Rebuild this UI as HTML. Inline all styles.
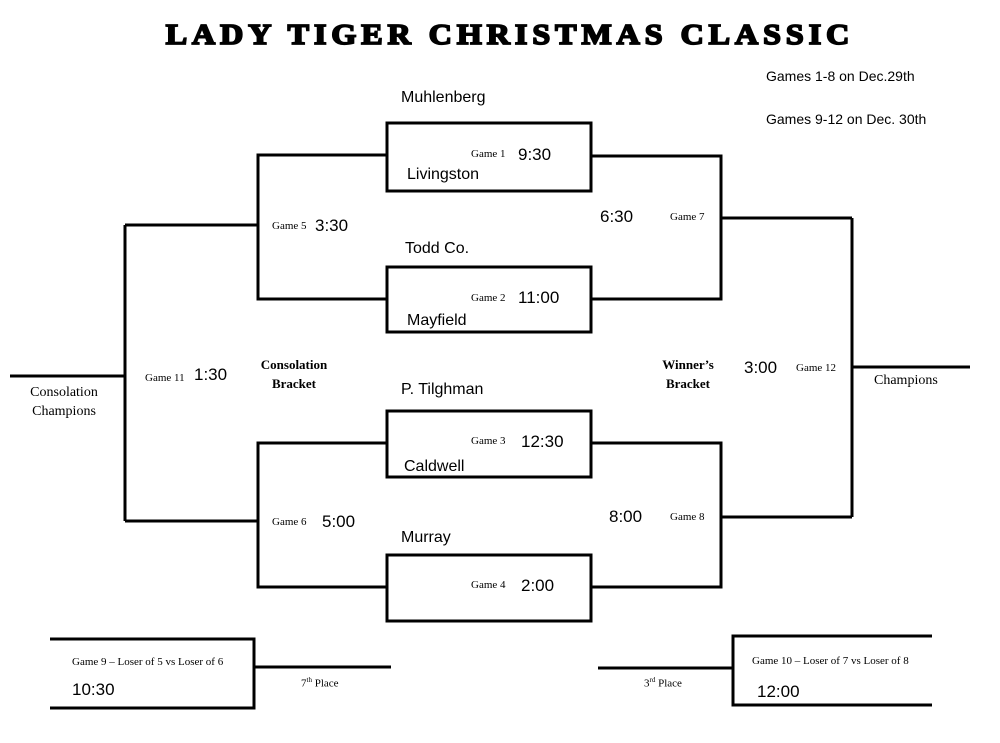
<!DOCTYPE html>
<html><head><style>
body{margin:0;background:#fff;width:1000px;height:743px;overflow:hidden;position:relative;font-family:"Liberation Sans",sans-serif;}
.t{position:absolute;white-space:nowrap;color:#000;}
.s{font-family:"Liberation Serif",serif;font-size:11px;}
.b{font-family:"Liberation Serif",serif;font-weight:bold;font-size:13px;text-align:center;}
.n{font-size:16px;}
.tm{font-size:17px;}
</style></head><body>
<svg width="1000" height="743" style="position:absolute;left:0;top:0" fill="none" stroke="#000" stroke-width="3">
<rect x="387" y="123" width="204" height="68"/>
<rect x="387" y="267" width="204" height="65"/>
<rect x="387" y="411" width="204" height="66"/>
<rect x="387" y="555" width="204" height="66"/>
<path d="M387 155H258V299H387M258 225H125M387 443H258V587H387M258 521H125M125 225V521M125 376H10"/>
<path d="M591 156H721V299H591M721 218H852M591 443H721V587H591M721 517H852M852 218V517M852 367H970"/>
<path d="M50 639H254V708H50M254 667H391"/>
<path d="M932 636H733V705H932M733 668H598"/>
</svg>
<div class="t" style="left:120px;top:16px;width:780px;text-align:center;font-family:'Liberation Serif',serif;font-weight:900;font-size:32px;letter-spacing:5px;transform:scaleY(0.9);-webkit-text-stroke:2px #000">LADY TIGER CHRISTMAS CLASSIC</div>
<div class="t" style="left:766px;top:68px;font-size:14px">Games 1-8 on Dec.29th</div>
<div class="t" style="left:766px;top:111px;font-size:14px">Games 9-12 on Dec. 30th</div>
<div class="t n" style="left:401px;top:89px">Muhlenberg</div>
<div class="t s" style="left:471px;top:148px">Game 1</div>
<div class="t tm" style="left:518px;top:145px">9:30</div>
<div class="t n" style="left:407px;top:166px">Livingston</div>
<div class="t n" style="left:405px;top:240px">Todd Co.</div>
<div class="t s" style="left:471px;top:292px">Game 2</div>
<div class="t tm" style="left:518px;top:288px">11:00</div>
<div class="t n" style="left:407px;top:312px">Mayfield</div>
<div class="t n" style="left:401px;top:381px">P. Tilghman</div>
<div class="t s" style="left:471px;top:435px">Game 3</div>
<div class="t tm" style="left:521px;top:432px">12:30</div>
<div class="t n" style="left:404px;top:458px">Caldwell</div>
<div class="t n" style="left:401px;top:529px">Murray</div>
<div class="t s" style="left:471px;top:579px">Game 4</div>
<div class="t tm" style="left:521px;top:576px">2:00</div>
<div class="t s" style="left:272px;top:220px">Game 5</div>
<div class="t tm" style="left:315px;top:216px">3:30</div>
<div class="t s" style="left:272px;top:516px">Game 6</div>
<div class="t tm" style="left:322px;top:512px">5:00</div>
<div class="t tm" style="left:600px;top:207px">6:30</div>
<div class="t s" style="left:670px;top:211px">Game 7</div>
<div class="t tm" style="left:609px;top:507px">8:00</div>
<div class="t s" style="left:670px;top:511px">Game 8</div>
<div class="t s" style="left:145px;top:372px">Game 11</div>
<div class="t tm" style="left:194px;top:365px">1:30</div>
<div class="t s" style="left:796px;top:362px">Game 12</div>
<div class="t tm" style="left:744px;top:358px">3:00</div>
<div class="t b" style="left:248px;top:355px;width:92px;line-height:19px">Consolation<br>Bracket</div>
<div class="t b" style="left:643px;top:355px;width:90px;line-height:19px">Winner’s<br>Bracket</div>
<div class="t" style="left:14px;top:383px;width:100px;text-align:center;font-family:'Liberation Serif',serif;font-size:14px;line-height:19px">Consolation<br>Champions</div>
<div class="t" style="left:874px;top:373px;font-family:'Liberation Serif',serif;font-size:14px">Champions</div>
<div class="t s" style="left:72px;top:656px">Game 9 – Loser of 5 vs Loser of 6</div>
<div class="t tm" style="left:72px;top:680px">10:30</div>
<div class="t s" style="left:301px;top:676px">7<sup style="font-size:7px">th</sup> Place</div>
<div class="t s" style="left:644px;top:676px">3<sup style="font-size:7px">rd</sup> Place</div>
<div class="t s" style="left:752px;top:655px">Game 10 – Loser of 7 vs Loser of 8</div>
<div class="t tm" style="left:757px;top:682px">12:00</div>
</body></html>
